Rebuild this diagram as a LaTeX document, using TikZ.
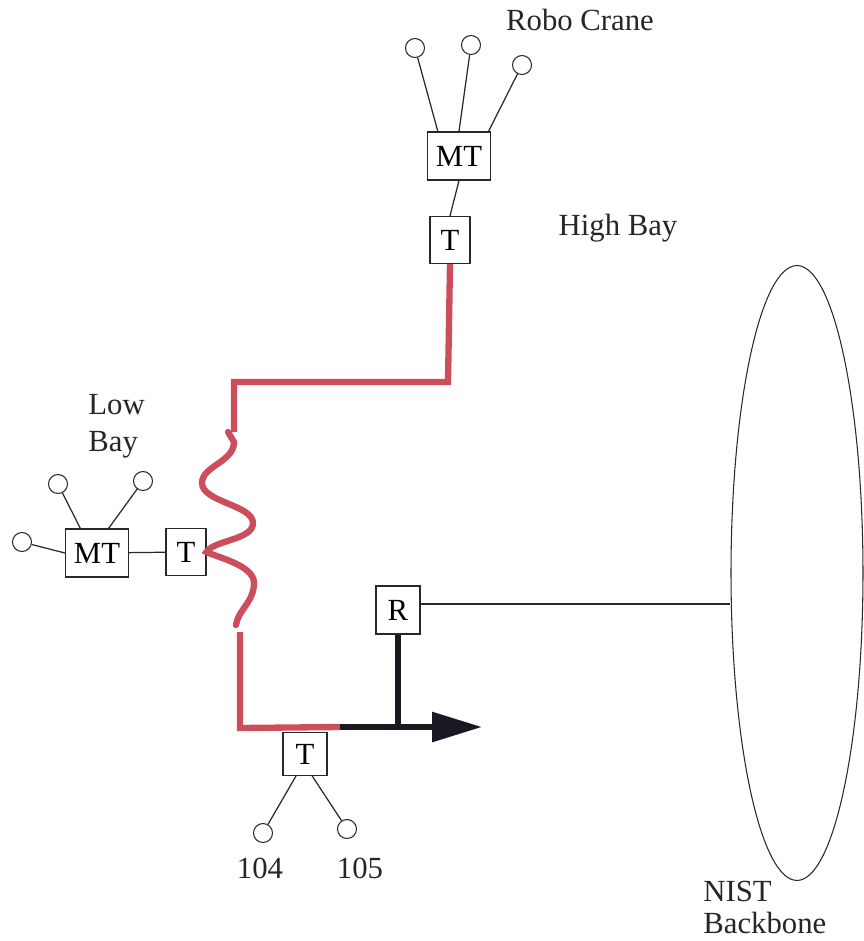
\documentclass[tikz,border=0pt]{standalone}
\usepackage{fontspec}
\setmainfont{Liberation Serif}
\usetikzlibrary{arrows.meta,positioning,calc,shapes.geometric}

\definecolor{wirered}{RGB}{204,78,92}
\definecolor{wireblack}{RGB}{28,24,34}
\definecolor{ink}{RGB}{40,40,40}

\begin{document}
\begin{tikzpicture}[
    x=0.02cm, y=-0.02cm,
    font=\fontsize{17.5}{21}\selectfont,
    % node styles
    box/.style={rectangle, draw=ink, line width=0.6pt, inner sep=0pt, minimum width=0.8cm, minimum height=0.94cm},
    mtbox/.style={box, minimum width=1.26cm, minimum height=0.96cm},
    port/.style={circle, draw=ink, line width=0.6pt, inner sep=0pt, minimum size=0.38cm},
    label/.style={inner sep=0pt, text=black!85},
    link/.style={draw=ink, line width=0.7pt},
    redwire/.style={draw=wirered, line width=3.6pt},
    blackwire/.style={draw=wireblack, line width=3.4pt}
]
\useasboundingbox (0,0) rectangle (864,941);

% Texts
\node[label] (crane_lbl) at (580,20) {Robo Crane};
\node[label] (high_lbl) at (618,228) {High Bay};
\node[label, align=left, anchor=west] (low_lbl) at (88,426) {Low\\Bay};
\node[label, align=left, anchor=north west, font=\fontsize{17.5}{18}\selectfont] (nist_lbl) at (703,881) {NIST\\Backbone};
\node[label] (lbl104) at (260,868) {104};
\node[label] (lbl105) at (360,868) {105};

% High Bay (Robo Crane)
\node[mtbox] (mt_high) at (459,156) {MT};
\node[box] (t_high) at (450,240) {T};
\node[port] (ch1) at (415,48) {};
\node[port] (ch2) at (471,45) {};
\node[port] (ch3) at (522,65) {};
\draw[link] (ch1) -- ($(mt_high.north west)!0.17!(mt_high.north east)$);
\draw[link] (ch2) -- ($(mt_high.north west)!0.5!(mt_high.north east)$);
\draw[link] (ch3) -- ($(mt_high.north west)!0.96!(mt_high.north east)$);
\draw[link] (mt_high.south) -- (t_high.north);

% Low Bay
\node[mtbox] (mt_low) at (97,553) {MT};
\node[box] (t_low) at (186,552) {T};
\node[port] (cl1) at (22,542) {};
\node[port] (cl2) at (58,484) {};
\node[port] (cl3) at (143,481) {};
\draw[link] (cl1) -- (mt_low.west);
\draw[link] (cl2) -- ($(mt_low.north west)!0.24!(mt_low.north east)$);
\draw[link] (cl3) -- ($(mt_low.north west)!0.68!(mt_low.north east)$);
\draw[link] (mt_low) -- (t_low);

% Rooms 104 / 105
\node[box, minimum width=0.88cm, minimum height=0.86cm] (t_room) at (305,754) {T};
\node[port] (c104) at (263,833) {};
\node[port] (c105) at (347,829) {};
\draw[link] ($(t_room.south west)!0.3!(t_room.south east)$) -- (c104);
\draw[link] ($(t_room.south west)!0.66!(t_room.south east)$) -- (c105);

% Router and backbone
\node[box, minimum width=0.88cm, minimum height=0.96cm] (router) at (398,610) {R};
\node[ellipse, draw=ink, line width=0.6pt, minimum width=2.64cm, minimum height=12.3cm] (backbone) at (797,573) {};
\coordinate (tap) at ($(router.east)+(0,-6)$);
\draw[link] (tap) -- (tap -| backbone.west);

% Red cable
\coordinate (turn_a) at (448,382);
\coordinate (turn_b) at (234,382);
\coordinate (coil_top) at (234,432);
\coordinate (low_start) at (240,632);
\coordinate (low_corner) at (240,728);
\coordinate (splice) at (340,727);
\coordinate (arrow_end) at (482,727);
\draw[redwire] (t_high.south) -- (turn_a) -- (turn_b) -- (coil_top);
\draw[redwire, line cap=round] (228,432) -- (234,442)
    .. controls (234,462) and (202,466) .. (202,483)
    .. controls (202,502) and (253,505) .. (253,523)
    .. controls (253,540) and (214,540) .. (t_low.east)
    .. controls (216,557) and (254,565) .. (254,583)
    .. controls (254,602) and (238,610) .. (236,625);
\draw[redwire] (low_start) -- (low_corner) -- (splice);

% Black cable
\draw[blackwire, -{Triangle[length=1cm, width=0.58cm]}] (splice) -- (arrow_end);
\draw[blackwire] (router.south) -- (router.south |- splice);

\end{tikzpicture}
\end{document}
